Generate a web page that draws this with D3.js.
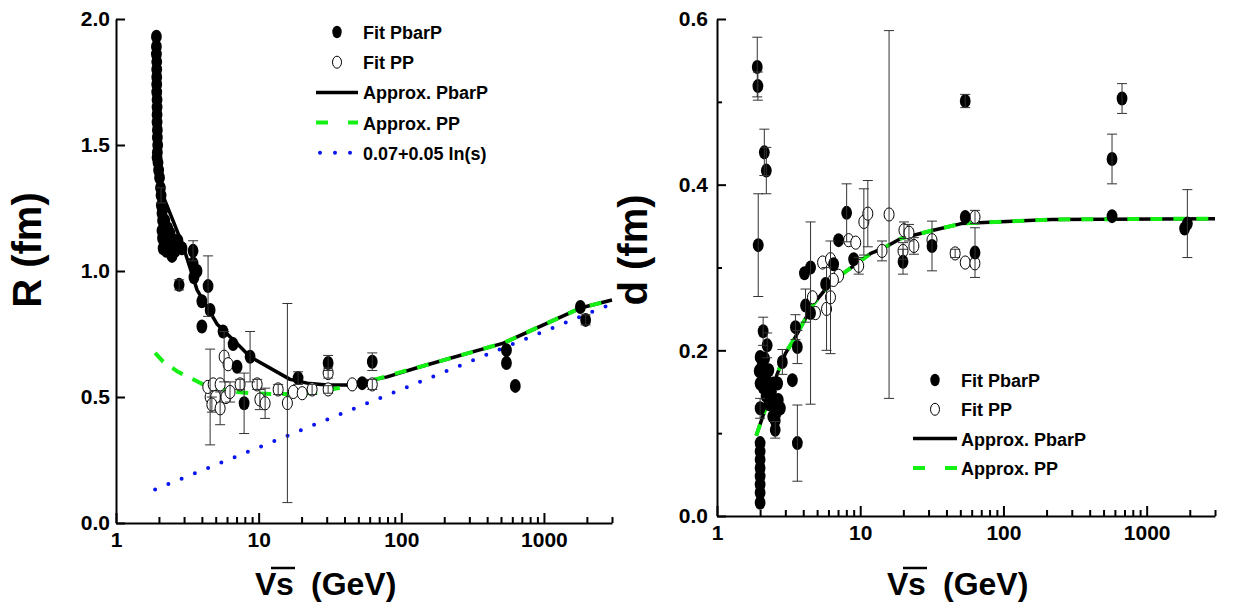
<!DOCTYPE html>
<html>
<head>
  <meta charset="utf-8">
  <style>
    body { margin: 0; background: #fff; }
    svg { display: block; font-family: "Liberation Sans", Arial, sans-serif; }
    .lbl { font-weight: bold; }
  </style>
</head>
<body>
  <svg id="chart" width="1239" height="610"></svg>
  <script src="https://d3js.org/d3.v7.min.js"></script>
  <script>

    // DATA (left panel: R vs sqrt(s)) [sqrt(s) GeV, R fm, error]
    var rPbarP = [
      [1.92, 1.93], [1.92, 1.89], [1.92, 1.86], [1.93, 1.83], [1.93, 1.80], [1.93, 1.77],
      [1.93, 1.74], [1.93, 1.71], [1.94, 1.68], [1.94, 1.65], [1.94, 1.62], [1.94, 1.59],
      [1.95, 1.56], [1.95, 1.53], [1.96, 1.50], [1.95, 1.47], [1.94, 1.45], [1.97, 1.43],
      [1.99, 1.40], [2.02, 1.37], [2.05, 1.33], [2.07, 1.30, 0.03], [2.08, 1.26], [2.1, 1.23],
      [2.12, 1.20], [2.1, 1.16], [2.12, 1.13], [2.14, 1.09], [2.28, 1.12], [2.39, 1.15],
      [2.15, 1.25], [2.2, 1.2], [2.3, 1.17], [2.2, 1.14], [2.35, 1.12], [2.45, 1.1],
      [2.6, 1.08], [2.25, 1.08],
      [2.47, 1.06], [2.55, 1.12], [2.72, 1.12], [2.9, 1.09], [2.77, 0.945, 0.02],
      [3.47, 1.08, 0.04], [3.47, 1.03], [3.7, 1.0], [3.52, 0.975], [4.42, 0.94, 0.12],
      [4.0, 0.88], [4.57, 0.845], [4.0, 0.78], [5.63, 0.76], [6.62, 0.71], [7.06, 0.62],
      [8.71, 0.66, 0.1], [7.91, 0.475, 0.12], [18.9, 0.575, 0.025], [30.7, 0.635, 0.03],
      [53.2, 0.555], [62.6, 0.64, 0.035], [546, 0.686], [546, 0.635], [630, 0.544],
      [1800, 0.857], [1960, 0.806, 0.02]
    ];

    var rPP = [
      [4.57, 0.50, 0.19], [4.4, 0.54], [4.8, 0.55], [5.0, 0.50], [4.7, 0.47, 0.03],
      [5.37, 0.55], [5.37, 0.455, 0.065], [5.73, 0.66, 0.1], [6.11, 0.63], [5.9, 0.50],
      [6.3, 0.52, 0.04], [7.41, 0.55, 0.02], [9.76, 0.55, 0.02], [10.2, 0.49, 0.04],
      [11.1, 0.475, 0.06], [13.7, 0.53, 0.02], [15.9, 0.476, 0.395], [17.5, 0.52],
      [20.2, 0.515], [23.7, 0.53, 0.02], [30.7, 0.595, 0.02], [30.7, 0.53, 0.015],
      [45.3, 0.55], [62.6, 0.55, 0.02]
    ];

    var rApproxPbarP = [
      [1.97, 1.36], [2.2, 1.28], [2.51, 1.2], [2.95, 1.10], [3.7, 0.925], [5.1, 0.79],
      [7.4, 0.70], [8.7, 0.66], [16.6, 0.57], [21.9, 0.555], [30.2, 0.548], [41.8, 0.548],
      [54.4, 0.56], [79.6, 0.58], [136, 0.62], [520, 0.714], [1800, 0.853], [3000, 0.885]
    ];

    var rApproxPP = [
      [1.88, 0.675], [2.14, 0.64], [2.72, 0.60], [3.2, 0.58], [4.08, 0.55], [4.8, 0.54],
      [6.0, 0.528], [7.1, 0.52], [8.7, 0.515], [12.6, 0.512], [18.9, 0.512], [24.1, 0.516],
      [30.2, 0.528], [41.8, 0.54], [57.7, 0.56], [93.6, 0.595], [136, 0.62], [520, 0.714],
      [1800, 0.853], [3000, 0.885]
    ];

    var rLogLine = [[1.88, 0.133], [3000, 0.87]];

    // DATA (right panel: d vs sqrt(s))
    var dPbarP = [
      [2.0, 0.088], [2.0, 0.078], [2.0, 0.068], [2.0, 0.058], [2.0, 0.048], [2.0, 0.038],
      [2.0, 0.028], [2.0, 0.016], [1.91, 0.542, 0.036], [1.93, 0.519, 0.017],
      [2.14, 0.439, 0.028], [2.21, 0.417, 0.028], [1.94, 0.327, 0.062],
      [2.1, 0.223, 0.017], [2.24, 0.206, 0.015], [2.0, 0.192], [1.97, 0.175], [2.0, 0.16],
      [2.1, 0.17], [2.3, 0.176], [2.47, 0.16], [2.0, 0.13, 0.012], [2.68, 0.14],
      [2.55, 0.104, 0.01], [2.77, 0.13], [2.4, 0.15], [2.2, 0.145], [2.86, 0.186, 0.015],
      [2.05, 0.18], [2.15, 0.19], [2.2, 0.165], [2.35, 0.155], [2.5, 0.14], [2.6, 0.125],
      [2.45, 0.12], [2.3, 0.135], [2.55, 0.115], [2.65, 0.16], [2.1, 0.155],
      [3.36, 0.164], [3.64, 0.088, 0.046], [3.53, 0.228, 0.015], [3.64, 0.204, 0.02],
      [4.08, 0.293], [4.5, 0.30], [4.15, 0.254, 0.02], [4.5, 0.245, 0.11], [5.73, 0.28],
      [6.52, 0.304], [7.06, 0.333], [8.04, 0.366, 0.035], [9.0, 0.31], [19.9, 0.307, 0.015],
      [31.7, 0.326, 0.03], [54.1, 0.361], [54.1, 0.501, 0.008], [63.3, 0.318, 0.03],
      [573, 0.362], [573, 0.431, 0.03], [673, 0.504, 0.018], [1840, 0.347],
      [1924, 0.353, 0.041]
    ];

    var dPP = [
      [4.64, 0.264], [4.87, 0.245], [5.46, 0.306], [5.82, 0.25, 0.05], [6.2, 0.31],
      [6.2, 0.264, 0.068], [7.06, 0.29], [6.5, 0.285], [8.3, 0.333], [9.3, 0.33],
      [9.76, 0.302, 0.01], [10.6, 0.355, 0.04], [11.3, 0.365, 0.04], [14.2, 0.32, 0.012],
      [15.9, 0.364, 0.222], [19.9, 0.32, 0.01], [20.2, 0.345, 0.01], [21.9, 0.342, 0.01],
      [23.7, 0.326, 0.01], [31.7, 0.333], [46, 0.317, 0.005], [54.1, 0.306],
      [63.2, 0.305], [63.3, 0.361, 0.008]
    ];

    var dApprox = [
      [1.88, 0.097], [2.24, 0.136], [2.64, 0.172], [3.0, 0.196], [3.52, 0.216],
      [4.14, 0.238], [4.72, 0.256], [5.73, 0.274], [6.95, 0.288], [9.0, 0.302],
      [11.86, 0.317], [14.4, 0.323], [19.2, 0.335], [32.4, 0.345], [50.8, 0.353],
      [217, 0.358], [3000, 0.359]
    ];

    var xTicks = [1, 10, 100, 1000];
    var xMinor = [2, 3, 4, 5, 6, 7, 8, 9, 20, 30, 40, 50, 60, 70, 80, 90,
                  200, 300, 400, 500, 600, 700, 800, 900, 2000, 3000];
    var rTicks = [0, 0.5, 1.0, 1.5, 2.0];
    var dTicks = [0, 0.2, 0.4, 0.6];
    var dMinor = [0.1, 0.3, 0.5];

    var legendLeft = ['Fit PbarP', 'Fit PP', 'Approx. PbarP', 'Approx. PP', '0.07+0.05 ln(s)'];
    var legendRight = ['Fit PbarP', 'Fit PP', 'Approx. PbarP', 'Approx. PP'];

    var GREEN = '#14f014';
    var BLUE = '#0a14f0';

    var svg = d3.select('#chart');

    function drawPanel(o) {
      var x = d3.scaleLog().domain([1, 3000]).range([o.left, o.right]);
      var y = d3.scaleLinear().domain([0, o.ymax]).range([o.bottom, o.top]);
      var g = svg.append('g');

      var line = d3.line()
        .x(function(d) { return x(d[0]); })
        .y(function(d) { return y(d[1]); });

      // curves
      if (o.logLine) {
        g.append('path').datum(o.logLine)
          .attr('d', line).attr('fill', 'none')
          .attr('stroke', BLUE).attr('stroke-width', 4)
          .attr('stroke-linecap', 'round')
          .attr('stroke-dasharray', '0,14.3');
      }
      g.append('path').datum(o.approxA)
        .attr('d', line).attr('fill', 'none')
        .attr('stroke', '#000').attr('stroke-width', 3.5)
        .attr('stroke-linejoin', 'round');
      g.append('path').datum(o.approxB)
        .attr('d', line).attr('fill', 'none')
        .attr('stroke', GREEN).attr('stroke-width', 4)
        .attr('stroke-dasharray', '12,11');

      // markers
      g.selectAll('.pp').data(o.open).enter()
        .append('ellipse')
          .attr('cx', function(d) { return x(d[0]); })
          .attr('cy', function(d) { return y(d[1]); })
          .attr('rx', 5).attr('ry', 6.6)
          .attr('fill', '#fff').attr('stroke', '#000').attr('stroke-width', 1);
      g.selectAll('.pbarp').data(o.filled).enter()
        .append('ellipse')
          .attr('cx', function(d) { return x(d[0]); })
          .attr('cy', function(d) { return y(d[1]); })
          .attr('rx', 5.4).attr('ry', 7)
          .attr('fill', '#000');

      // error bars on top
      var withErr = o.filled.concat(o.open).filter(function(d) { return d[2]; });
      var eb = g.selectAll('.err').data(withErr).enter().append('g')
        .attr('stroke', '#333').attr('stroke-width', 1);
      eb.append('line')
        .attr('x1', function(d) { return x(d[0]); })
        .attr('x2', function(d) { return x(d[0]); })
        .attr('y1', function(d) { return y(d[1] + d[2]); })
        .attr('y2', function(d) { return y(d[1] - d[2]); });
      [1, -1].forEach(function(sgn) {
        eb.append('line')
          .attr('x1', function(d) { return x(d[0]) - 5; })
          .attr('x2', function(d) { return x(d[0]) + 5; })
          .attr('y1', function(d) { return y(d[1] + sgn * d[2]); })
          .attr('y2', function(d) { return y(d[1] + sgn * d[2]); });
      });

      // axes
      var fmtX = function(d) { return String(d); };
      var ax = g.append('g').attr('transform', 'translate(0,' + o.bottom + ')')
        .call(d3.axisBottom(x).tickValues(xTicks).tickFormat(fmtX)
          .tickSize(-10).tickSizeOuter(0).tickPadding(9));
      g.append('g').attr('transform', 'translate(0,' + o.bottom + ')')
        .call(d3.axisBottom(x).tickValues(xMinor).tickFormat('')
          .tickSize(-6).tickSizeOuter(0))
        .select('.domain').remove();

      var ay = g.append('g').attr('transform', 'translate(' + o.left + ',0)')
        .call(d3.axisLeft(y).tickValues(o.yTicks).tickFormat(d3.format('.1f'))
          .tickSize(-9).tickSizeOuter(0).tickPadding(o.yPad));
      if (o.yMinor) {
        g.append('g').attr('transform', 'translate(' + o.left + ',0)')
          .call(d3.axisLeft(y).tickValues(o.yMinor).tickFormat('')
            .tickSize(-5).tickSizeOuter(0))
          .select('.domain').remove();
      }

      g.selectAll('.domain, .tick line').attr('stroke', '#000').attr('stroke-width', 2);
      [ax, ay].forEach(function(a) {
        a.attr('font-family', null).attr('font-size', null);
        a.selectAll('text')
          .attr('class', 'lbl')
          .style('font-size', '21px')
          .attr('fill', '#000');
      });

      // axis titles
      g.append('text')
        .attr('class', 'lbl')
        .attr('transform', 'translate(' + o.ytX + ',250) rotate(-90)')
        .attr('text-anchor', 'middle')
        .style('font-size', '40px')
        .text(o.yTitle);

      var tx = o.xtX;
      g.append('text').attr('class', 'lbl').attr('x', tx).attr('y', 595)
        .style('font-size', '32px').text('V');
      g.append('text').attr('class', 'lbl').attr('x', tx + 21).attr('y', 595)
        .style('font-size', '32px').text('s');
      g.append('line')
        .attr('x1', tx + 16).attr('x2', tx + 40)
        .attr('y1', 568).attr('y2', 568)
        .attr('stroke', '#000').attr('stroke-width', 2.5);
      g.append('text').attr('class', 'lbl').attr('x', tx + 56).attr('y', 595)
        .style('font-size', '32px').text('(GeV)');

      // legend
      var L = o.legend;
      var lg = g.append('g');
      L.labels.forEach(function(lab, i) {
        var yy = L.y0 + i * L.dy;
        lg.append('text').attr('class', 'lbl')
          .attr('x', L.textX).attr('y', yy + 7)
          .style('font-size', '18px').text(lab);
        if (i === 0) {
          lg.append('ellipse').attr('cx', L.markX).attr('cy', yy)
            .attr('rx', 4.7).attr('ry', 6.2).attr('fill', '#000');
        } else if (i === 1) {
          lg.append('ellipse').attr('cx', L.markX).attr('cy', yy)
            .attr('rx', 4.5).attr('ry', 6).attr('fill', '#fff')
            .attr('stroke', '#000').attr('stroke-width', 1);
        } else {
          var seg = lg.append('line')
            .attr('x1', L.lineX0).attr('x2', L.lineX1)
            .attr('y1', yy).attr('y2', yy);
          if (i === 2) {
            seg.attr('stroke', '#000').attr('stroke-width', 3.5);
          } else if (i === 3) {
            seg.attr('stroke', GREEN).attr('stroke-width', 4)
              .attr('stroke-dasharray', '12,20');
          } else {
            seg.attr('stroke', BLUE).attr('stroke-width', 4)
              .attr('stroke-linecap', 'round')
              .attr('stroke-dasharray', '0,15').attr('x1', L.lineX0 + 4);
          }
        }
      });
    }

    drawPanel({
      left: 116, right: 612, top: 19, bottom: 523, ymax: 2.0,
      yTicks: rTicks, yMinor: null, yPad: 6,
      filled: rPbarP, open: rPP,
      approxA: rApproxPbarP, approxB: rApproxPP, logLine: rLogLine,
      yTitle: 'R (fm)', ytX: 41, xtX: 255,
      legend: { labels: legendLeft, y0: 32, dy: 30.2, markX: 337, textX: 363,
                lineX0: 316, lineX1: 358 }
    });

    drawPanel({
      left: 717, right: 1215, top: 19, bottom: 516, ymax: 0.6,
      yTicks: dTicks, yMinor: dMinor, yPad: 9,
      filled: dPbarP, open: dPP,
      approxA: dApprox, approxB: dApprox, logLine: null,
      yTitle: 'd (fm)', ytX: 647, xtX: 887,
      legend: { labels: legendRight, y0: 380, dy: 29.3, markX: 935, textX: 961,
                lineX0: 913, lineX1: 957 }
    });
  </script>
</body>
</html>
